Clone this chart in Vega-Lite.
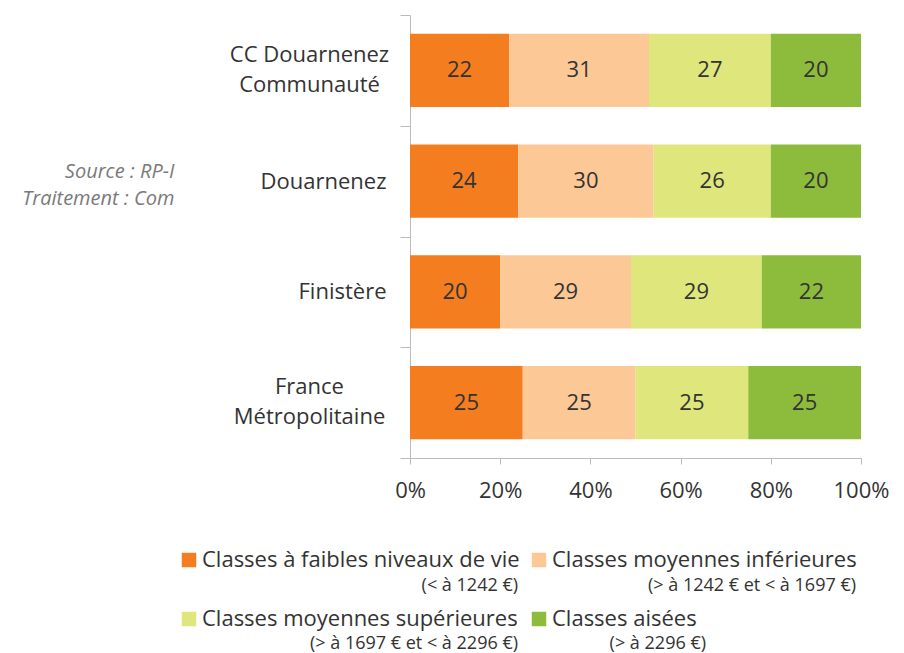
{
  "$schema": "https://vega.github.io/schema/vega-lite/v6.json",
  "width": 451,
  "height": 443,
  "autosize": {"type": "none"},
  "padding": {"left": 410, "top": 15, "right": 43, "bottom": 195},
  "config": {"view": {"stroke": null}, "font": "Open Sans"},
  "data": {
    "values": [
      {"zone": "CC Douarnenez Communauté", "classe": "Classes à faibles niveaux de vie", "order": 1, "value": 22},
      {"zone": "CC Douarnenez Communauté", "classe": "Classes moyennes inférieures", "order": 2, "value": 31},
      {"zone": "CC Douarnenez Communauté", "classe": "Classes moyennes supérieures", "order": 3, "value": 27},
      {"zone": "CC Douarnenez Communauté", "classe": "Classes aisées", "order": 4, "value": 20},
      {"zone": "Douarnenez", "classe": "Classes à faibles niveaux de vie", "order": 1, "value": 24},
      {"zone": "Douarnenez", "classe": "Classes moyennes inférieures", "order": 2, "value": 30},
      {"zone": "Douarnenez", "classe": "Classes moyennes supérieures", "order": 3, "value": 26},
      {"zone": "Douarnenez", "classe": "Classes aisées", "order": 4, "value": 20},
      {"zone": "Finistère", "classe": "Classes à faibles niveaux de vie", "order": 1, "value": 20},
      {"zone": "Finistère", "classe": "Classes moyennes inférieures", "order": 2, "value": 29},
      {"zone": "Finistère", "classe": "Classes moyennes supérieures", "order": 3, "value": 29},
      {"zone": "Finistère", "classe": "Classes aisées", "order": 4, "value": 22},
      {"zone": "France Métropolitaine", "classe": "Classes à faibles niveaux de vie", "order": 1, "value": 25},
      {"zone": "France Métropolitaine", "classe": "Classes moyennes inférieures", "order": 2, "value": 25},
      {"zone": "France Métropolitaine", "classe": "Classes moyennes supérieures", "order": 3, "value": 25},
      {"zone": "France Métropolitaine", "classe": "Classes aisées", "order": 4, "value": 25}
    ]
  },
  "transform": [
    {"stack": "value", "groupby": ["zone"], "sort": [{"field": "order"}], "as": ["v0", "v1"]},
    {"calculate": "(datum.v0 + datum.v1) / 2", "as": "mid"}
  ],
  "encoding": {
    "y": {
      "field": "zone",
      "type": "nominal",
      "sort": ["CC Douarnenez Communauté", "Douarnenez", "Finistère", "France Métropolitaine"],
      "scale": {"paddingInner": 0, "paddingOuter": 0},
      "axis": {
        "tickBand": "extent",
        "domainColor": "#bbbbbb",
        "tickColor": "#bbbbbb",
        "tickSize": 10,
        "labelFontSize": 22,
        "labelColor": "#333333",
        "labelLineHeight": 30,
        "labelLimit": 300,
        "labelAlign": {"condition": {"test": "datum.value == 'CC Douarnenez Communauté' || datum.value == 'France Métropolitaine'", "value": "center"}, "value": "right"},
        "labelPadding": {"condition": {"test": "datum.value == 'CC Douarnenez Communauté' || datum.value == 'France Métropolitaine'", "value": 91}, "value": 14},
        "labelOffset": {"condition": {"test": "datum.value == 'CC Douarnenez Communauté' || datum.value == 'France Métropolitaine'", "value": -16}, "value": 0},
        "labelExpr": "datum.value == 'CC Douarnenez Communauté' ? ['CC Douarnenez', 'Communauté'] : datum.value == 'France Métropolitaine' ? ['France', 'Métropolitaine'] : datum.value",
        "title": ["Source : RP-I", "Traitement : Com"],
        "titleAngle": 0,
        "titleAlign": "right",
        "titleBaseline": "middle",
        "titleX": -236,
        "titleY": 156,
        "titleFontStyle": "italic",
        "titleFontWeight": "normal",
        "titleFontSize": 20,
        "titleColor": "#7a7a7a",
        "titleLineHeight": 27
      }
    }
  },
  "layer": [
    {
      "mark": {"type": "bar", "height": {"band": 0.66}},
      "encoding": {
        "x": {
          "field": "v0",
          "type": "quantitative",
          "scale": {"domain": [0, 100]},
          "axis": {
            "values": [0, 20, 40, 60, 80, 100],
            "labelExpr": "datum.value + '%'",
            "labelFlush": false,
            "grid": false,
            "domainColor": "#bbbbbb",
            "tickColor": "#bbbbbb",
            "tickSize": 6,
            "labelFontSize": 22,
            "labelColor": "#333333",
            "labelPadding": 16,
            "title": null
          }
        },
        "x2": {"field": "v1"},
        "color": {
          "field": "classe",
          "type": "nominal",
          "scale": {
            "domain": ["Classes à faibles niveaux de vie", "Classes moyennes inférieures", "Classes moyennes supérieures", "Classes aisées"],
            "range": ["#f47d20", "#fbc896", "#dee67c", "#8dbb3c"]
          },
          "legend": {
            "orient": "none",
            "legendX": -232,
            "legendY": 534,
            "columns": 2,
            "direction": "horizontal",
            "title": null,
            "symbolType": "square",
            "symbolSize": 210,
            "symbolStrokeWidth": 0,
            "symbolOpacity": 1,
            "labelFontSize": 22,
            "labelColor": "#333333",
            "labelLimit": 400,
            "labelOffset": 2,
            "columnPadding": 8,
            "rowPadding": 37
          }
        },
        "strokeDash": {
          "field": "classe",
          "type": "nominal",
          "sort": {"field": "order", "op": "min"},
          "legend": {
            "orient": "none",
            "legendX": -232,
            "legendY": 562,
            "columns": 2,
            "direction": "horizontal",
            "title": null,
            "symbolType": "square",
            "symbolSize": 210,
            "symbolStrokeWidth": 0,
            "symbolOpacity": 0,
            "symbolFillColor": "transparent",
            "labelFontSize": 18,
            "labelColor": "#333333",
            "labelAlign": "right",
            "labelLimit": 400,
            "labelOffset": 6,
            "columnPadding": 14,
            "rowPadding": 40,
            "labelExpr": "datum.value == 'Classes à faibles niveaux de vie' ? '(< à 1242 €)' : datum.value == 'Classes moyennes inférieures' ? '(> à 1242 € et < à 1697 €)' : datum.value == 'Classes moyennes supérieures' ? '(> à 1697 € et < à 2296 €)' : '(> à 2296 €)'",
            "encode": {
              "labels": {
                "update": {
                  "dx": {"signal": "datum.value == 'Classes aisées' ? 150 : datum.value == 'Classes moyennes inférieures' ? 300 : 316"}
                }
              }
            }
          }
        }
      }
    },
    {
      "mark": {"type": "text", "fontSize": 22, "color": "#333333"},
      "encoding": {
        "x": {"field": "mid", "type": "quantitative"},
        "text": {"field": "value", "type": "quantitative"}
      }
    }
  ]
}
